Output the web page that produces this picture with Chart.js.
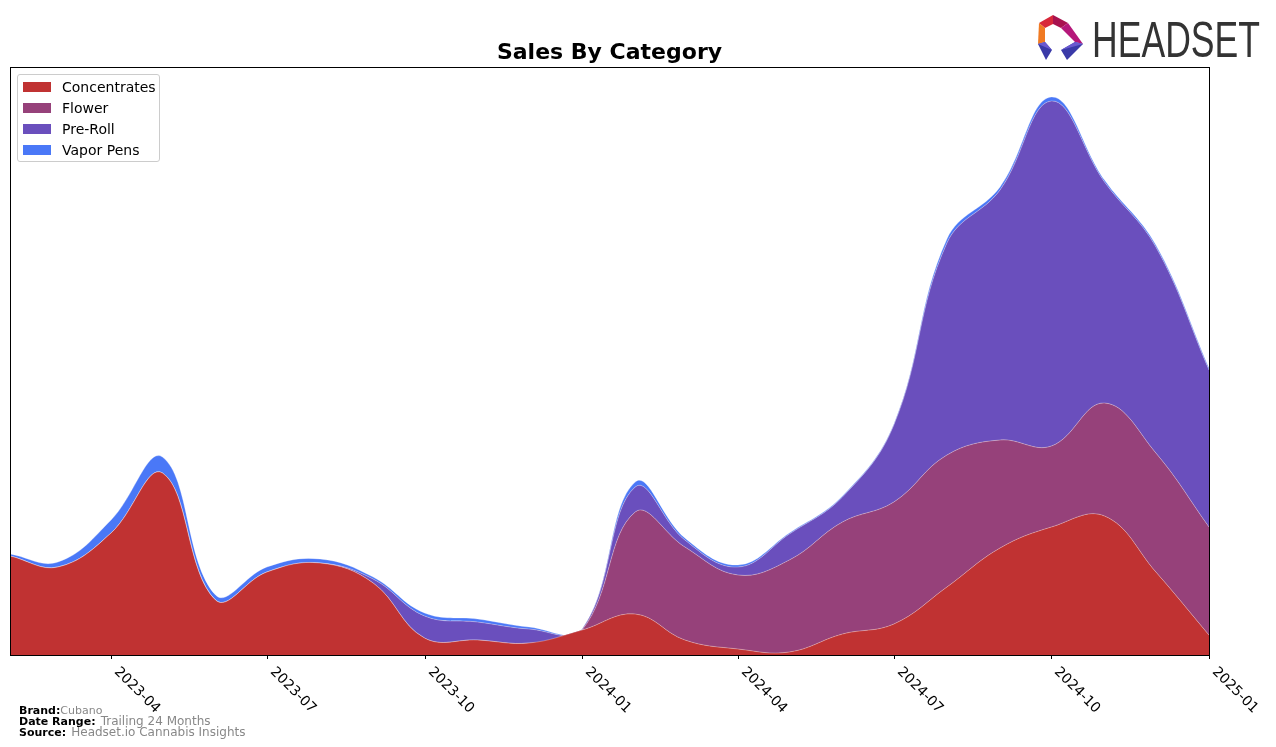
<!DOCTYPE html>
<html>
<head>
<meta charset="utf-8">
<script src="https://cdn.jsdelivr.net/npm/chart.js@4.4.0/dist/chart.umd.min.js"></script>
<style>
  body { margin: 0; background: #fff; }
  #wrap { position: relative; width: 1276px; height: 747px; font-family: "DejaVu Sans", sans-serif; }
  #chart { position: absolute; left: 0; top: 0; }
  .title { position: absolute; left: 10px; width: 1199px; top: 39px; text-align: center; font-weight: bold; font-size: 22px; line-height: 26px; }
  .legend { position: absolute; left: 17px; top: 74px; width: 141px; height: 86px; border: 1px solid #ccc; border-radius: 3px; background: rgba(255,255,255,0.8); }
  .legend div { position: absolute; left: 44px; font-size: 14px; line-height: 16px; }
  .legend span { position: absolute; left: -39px; top: 3px; width: 28px; height: 10px; }
  .tick { position: absolute; font-size: 14px; line-height: 16px; transform-origin: 0 0; transform: rotate(45deg); white-space: nowrap; }
  .foot { position: absolute; left: 19px; white-space: nowrap; line-height: 12px; }
  .foot b { font-size: 11px; }
  .foot span { color: #888; font-size: 12px; }
</style>
</head>
<body>
<div id="wrap">
  <canvas id="chart" width="1276" height="747"></canvas>
  <div class="title">Sales By Category</div>
  <div class="legend" id="legend"></div>
  <div class="foot" style="top:703px"><b>Brand:</b><span style="font-size:11px">Cubano</span></div>
  <div class="foot" style="top:714px"><b>Date Range:</b> <span>Trailing 24 Months</span></div>
  <div class="foot" style="top:725px"><b>Source:</b> <span>Headset.io Cannabis Insights</span></div>
  <svg style="position:absolute;left:1030px;top:5px" width="240" height="65">
    <polygon points="9,18 23,10 23,19 15,23" fill="#d8283a"/>
    <polygon points="23,10 38,18 31,23 23,19" fill="#a8124f"/>
    <polygon points="9,18 15,23 15,37 8,39" fill="#f07a22"/>
    <polygon points="38,18 53,39 45,37 31,23" fill="#b5187a"/>
    <polygon points="8,39 15,37 22,45 16,55" fill="#3a3aa8"/>
    <polygon points="45,37 53,39 37,55 31,45" fill="#3a3aa8"/>
    <polygon points="8,39 15,37 22,45" fill="#6a5ad0"/>
    <polygon points="45,37 53,39 31,45" fill="#6a5ad0"/>
    <text x="62" y="52" font-family="Liberation Sans, Arial, sans-serif" font-size="50" fill="#333" textLength="168" lengthAdjust="spacingAndGlyphs">HEADSET</text>
  </svg>
</div>
<script>
// monthly sales by category (arbitrary units)
const months = [
  "2023-02", "2023-03", "2023-04", "2023-05", "2023-06", "2023-07",
  "2023-08", "2023-09", "2023-10", "2023-11", "2023-12", "2024-01",
  "2024-02", "2024-03", "2024-04", "2024-05", "2024-06", "2024-07",
  "2024-08", "2024-09", "2024-10", "2024-11", "2024-12", "2025-01"
];
const tickMonths = ["2023-04", "2023-07", "2023-10", "2024-01", "2024-04", "2024-07", "2024-10", "2025-01"];

const concentrates = [99, 88, 122, 182, 55, 83, 92, 72, 17, 15, 12, 25, 41, 15, 6, 3, 21, 31, 68, 107, 128, 139, 83, 20];
const flower = [0, 0, 0, 0, 0, 0, 0, 0, 0, 0, 0, 0, 102, 93, 74, 92, 112, 122, 132, 108, 81, 113, 119, 108];
const preRoll = [0, 0, 0, 0, 0, 0, 0, 4, 22, 18, 14, 1, 25, 7, 8, 26, 25, 77, 212, 250, 345, 221, 206, 157];
const vaporPens = [2, 5, 13, 16, 5, 5, 4, 2, 3, 3, 2, 0, 5, 2, 2, 1, 1, 1, 4, 3, 4, 2, 2, 2];

const seriesNames = ["Concentrates", "Flower", "Pre-Roll", "Vapor Pens"];
const seriesColors = ["#c03232", "#96417a", "#6a4fbd", "#4a78f7"];
const seriesValues = [concentrates, flower, preRoll, vaporPens];

// x position = days since first month
function dayOf(m) {
  const [y, mo] = m.split("-").map(Number);
  return (Date.UTC(y, mo - 1, 1) - Date.UTC(2023, 1, 1)) / 86400000;
}

const legend = document.getElementById("legend");
seriesNames.forEach((name, i) => {
  const row = document.createElement("div");
  row.style.top = (4 + i * 21) + "px";
  row.innerHTML = `<span style="background:${seriesColors[i]}"></span>${name}`;
  legend.appendChild(row);
});

const frame = {
  id: "frame",
  afterDraw(chart) {
    const { ctx, chartArea: a } = chart;
    const xs = chart.scales.x;
    ctx.save();
    ctx.strokeStyle = "#000";
    ctx.lineWidth = 1;
    ctx.strokeRect(a.left + 0.5, a.top + 0.5, a.right - a.left, a.bottom - a.top);
    ctx.beginPath();
    tickMonths.forEach(m => {
      const px = Math.round(xs.getPixelForValue(dayOf(m))) + 0.5;
      ctx.moveTo(px, a.bottom);
      ctx.lineTo(px, a.bottom + 4);
    });
    ctx.stroke();
    ctx.restore();

    if (!document.querySelector(".tick")) {
      const wrap = document.getElementById("wrap");
      tickMonths.forEach(m => {
        const el = document.createElement("div");
        el.className = "tick";
        el.textContent = m;
        el.style.left = (xs.getPixelForValue(dayOf(m)) + 12) + "px";
        el.style.top = (a.bottom + 8) + "px";
        wrap.appendChild(el);
      });
    }
  }
};

new Chart(document.getElementById("chart"), {
  type: "line",
  data: {
    datasets: seriesNames.map((name, i) => ({
      label: name,
      data: months.map((m, j) => ({ x: dayOf(m), y: seriesValues[i][j] })),
      backgroundColor: seriesColors[i],
      borderColor: "rgba(255,255,255,0.3)",
      borderWidth: 1,
      pointRadius: 0,
      tension: 0.4,
      fill: i === 0 ? "origin" : "-1"
    }))
  },
  options: {
    responsive: false,
    devicePixelRatio: 1,
    animation: false,
    layout: { padding: { left: 10, top: 67, right: 67, bottom: 92 } },
    plugins: { legend: { display: false }, title: { display: false }, tooltip: { enabled: false } },
    scales: {
      x: { type: "linear", display: false, min: 0, max: dayOf("2025-01") },
      y: { display: false, stacked: true, min: 0, max: 588 }
    }
  },
  plugins: [frame]
});
</script>
</body>
</html>
